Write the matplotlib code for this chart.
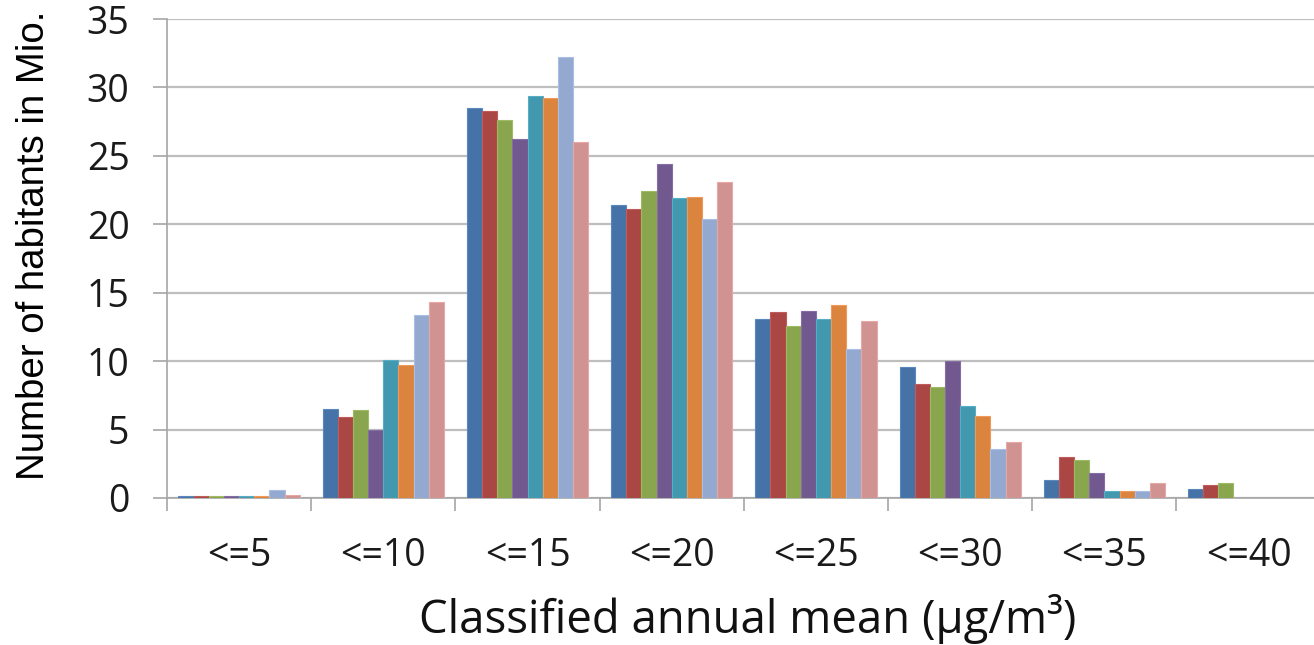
import numpy as np
import matplotlib
matplotlib.use("Agg")
import matplotlib.pyplot as plt
from matplotlib.ticker import FixedLocator, NullFormatter

# Concentration classes (annual mean, µg/m³)
categories = ["<=5", "<=10", "<=15", "<=20", "<=25", "<=30", "<=35", "<=40"]

# Habitants (millions) per class, one list per series
series_1 = [0.15, 6.5, 28.5, 21.4, 13.1, 9.6, 1.35, 0.65]
series_2 = [0.15, 5.9, 28.3, 21.1, 13.6, 8.3, 3.0, 0.95]
series_3 = [0.15, 6.4, 27.6, 22.4, 12.6, 8.1, 2.8, 1.1]
series_4 = [0.15, 5.0, 26.2, 24.4, 13.7, 10.0, 1.85, 0.0]
series_5 = [0.15, 10.1, 29.4, 21.9, 13.1, 6.7, 0.5, 0.0]
series_6 = [0.15, 9.7, 29.2, 22.0, 14.1, 6.0, 0.5, 0.0]
series_7 = [0.6, 13.4, 32.2, 20.4, 10.9, 3.6, 0.5, 0.0]
series_8 = [0.25, 14.3, 26.0, 23.1, 12.9, 4.1, 1.1, 0.0]

y_ticks = [0, 5, 10, 15, 20, 25, 30, 35]

all_series = [series_1, series_2, series_3, series_4,
              series_5, series_6, series_7, series_8]
colors = ["#4572A7", "#AA4643", "#89A54E", "#71588F",
          "#4198AF", "#DB843D", "#93A9CF", "#D19392"]
edges = ["#5A87BC", "#BF5B58", "#9EBA63", "#866DA4",
         "#56ADC4", "#F0995A", "#A8BEE4", "#E6A8A7"]

W, H = 1314, 645
fig = plt.figure(figsize=(W / 100, H / 100), dpi=100)
ax = fig.add_axes([167 / W, 1 - 498 / H, (1320.7 - 167) / W, (498 - 19) / H])

n = len(all_series)
bar_w = 0.841 / n
x = np.arange(len(categories))
for i, (vals, c, ec) in enumerate(zip(all_series, colors, edges)):
    offs = x - 0.841 / 2 + bar_w * (i + 0.5)
    vals = np.asarray(vals)
    lw = np.where(vals > 0, 0.8, 0.0)
    ax.bar(offs, vals, width=bar_w, color=c, edgecolor=ec, linewidth=lw,
           zorder=3)

ax.set_xlim(-0.5, len(categories) - 0.5)
ax.set_ylim(0, 35)

# Gridlines and axes
ax.yaxis.set_major_locator(FixedLocator(y_ticks))
ax.yaxis.grid(True, color="#BEBEBE", linewidth=1.6, zorder=0)
ax.set_axisbelow(True)
for side in ("top", "right"):
    ax.spines[side].set_visible(False)
for side in ("left", "bottom"):
    ax.spines[side].set_color("#A6A6A6")
    ax.spines[side].set_linewidth(1.2)

ax.tick_params(axis="both", which="both", labelsize=27,
               labelfontfamily="Open Sans", labelcolor="#1A1A1A")
ax.tick_params(axis="y", direction="out", length=10, width=1.2,
               color="#A6A6A6", pad=17)

# Category boundaries get tick marks; labels sit at the centres
ax.xaxis.set_major_locator(FixedLocator(np.arange(len(categories) + 1) - 0.5))
ax.xaxis.set_major_formatter(NullFormatter())
ax.xaxis.set_minor_locator(FixedLocator(x))
ax.set_xticklabels(categories, minor=True)
ax.tick_params(axis="x", which="major", direction="out", length=9, width=1.2,
               color="#A6A6A6")
ax.tick_params(axis="x", which="minor", length=0, pad=28)

fig.text(34 / W, 1 - 245 / H, "Number of habitants in Mio.",
         family="Liberation Sans", fontsize=27.6, color="#000000",
         rotation=90, ha="center", va="center")
fig.text((420 + 1075) / 2 / W, 1 - 619 / H,
         "Classified annual mean (µg/m³)", family="Open Sans",
         fontsize=32.8, color="#111111", ha="center", va="center")

fig.savefig("out.png", dpi=100)
